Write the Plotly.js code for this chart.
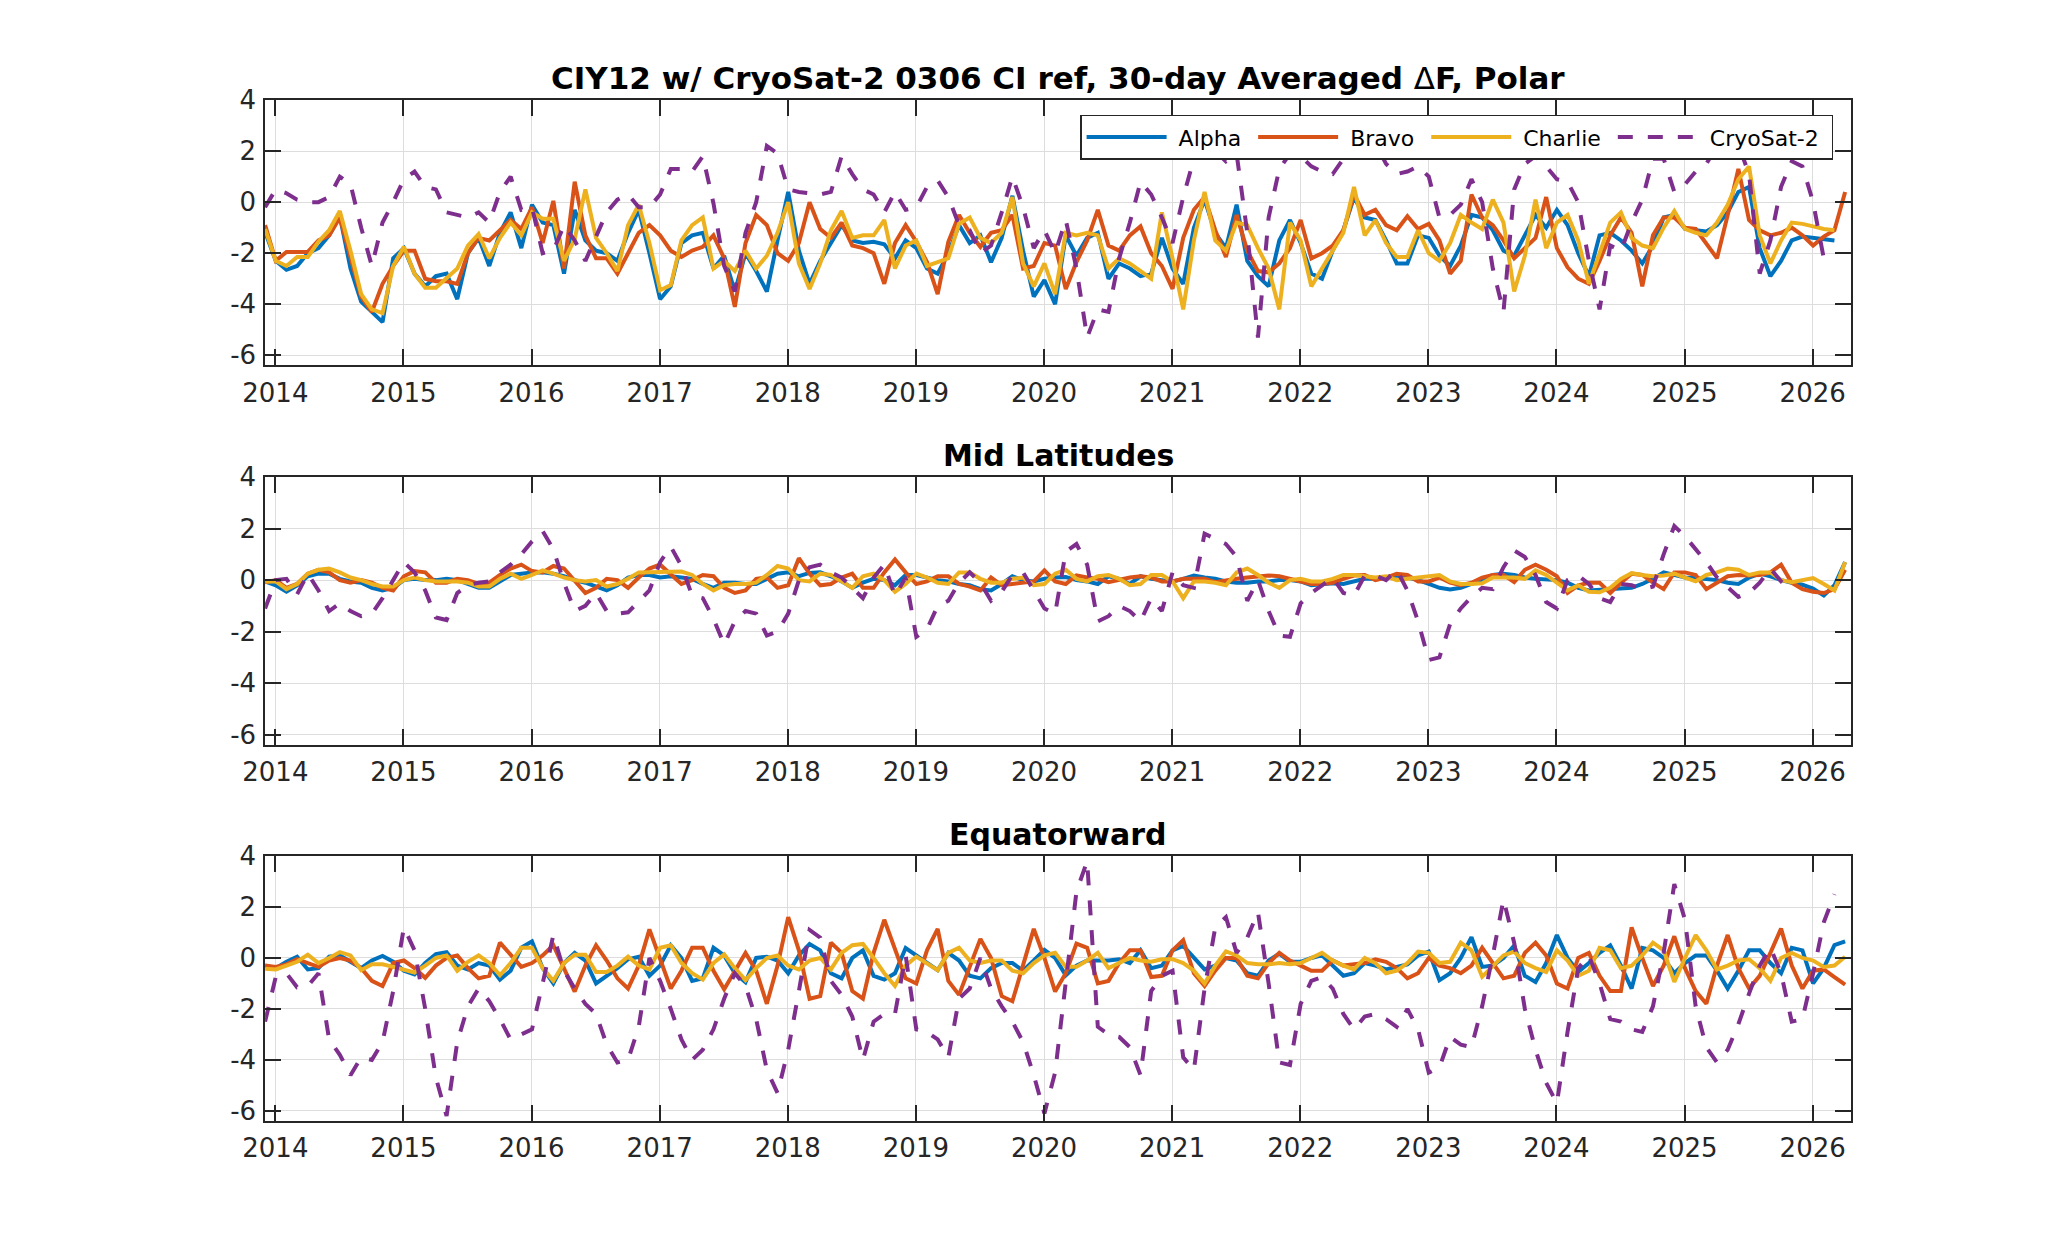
<!DOCTYPE html>
<html>
<head>
<meta charset="utf-8">
<script src="https://cdn.plot.ly/plotly-3.0.1.min.js"></script>
<style>
  html, body { margin: 0; padding: 0; background: #fff; }
  #chart { width: 2047px; height: 1260px; }
</style>
</head>
<body>
<div id="chart"></div>
<script>
// 30-day averaged dF, one value per month from Dec 2013 to Apr 2026
const startYear = 2013.92;
const nMonths = 149;
const months = [];
for (let i = 0; i < nMonths; i++) months.push(startYear + i / 12);

const yearTicks = [2014, 2015, 2016, 2017, 2018, 2019, 2020, 2021, 2022, 2023, 2024, 2025, 2026];
const yearLabels = ['2014', '2015', '2016', '2017', '2018', '2019', '2020', '2021', '2022', '2023', '2024', '2025', '2026'];
const yTicks = [-6, -4, -2, 0, 2, 4];
const yLabels = ['-6', '-4', '-2', '0', '2', '4'];

const seriesNames = ['Alpha', 'Bravo', 'Charlie', 'CryoSat-2'];
const panelTitles = [
  'CIY12 w/ CryoSat-2 0306 CI ref, 30-day Averaged <span style="font-weight:normal">\u0394</span>F, Polar',
  'Mid Latitudes',
  'Equatorward'
];

// ---- Polar
const polarAlpha = [
  -1.17, -2.3, -2.65, -2.5, -2.0, -1.8, -1.3, -0.55, -2.6, -3.9,
  -4.3, -4.7, -2.2, -1.8, -2.8, -3.3, -2.9, -2.8, -3.8, -2.0,
  -1.4, -2.5, -1.2, -0.4, -1.8, -0.1, -0.8, -0.9, -2.8, -0.3,
  -1.5, -1.9, -2.0, -2.3, -1.2, -0.3, -2.0, -3.8, -3.3, -1.6,
  -1.3, -1.2, -2.6, -2.1, -3.5, -2.0, -2.7, -3.5, -1.5, 0.4,
  -1.9, -3.2, -2.3, -1.6, -0.9, -1.5, -1.6, -1.55, -1.65, -2.2,
  -1.5, -1.8, -2.6, -2.8, -2.0, -0.9, -1.6, -1.3, -2.35, -1.4,
  0.25, -1.9, -3.7, -3.05, -4.0, -1.3, -2.1, -1.4, -1.2, -3.0,
  -2.4, -2.6, -2.9, -2.8, -1.4, -2.6, -3.2, -1.0, 0.1, -1.2,
  -1.8, -0.1, -2.3, -2.9, -3.3, -1.5, -0.7, -1.6, -2.8, -3.0,
  -1.9, -1.1, 0.2, -0.6, -0.7, -1.5, -2.4, -2.4, -1.3, -1.4,
  -2.1, -2.5, -1.7, -0.5, -0.6, -1.1, -1.9, -2.1, -1.3, -0.5,
  -1.0, -0.3, -0.9, -2.0, -2.9, -1.3, -1.2, -1.5, -1.9, -2.4,
  -1.7, -0.6, -0.5, -1.05, -1.1, -1.15, -0.9, -0.4, 0.4, 0.6,
  -1.8, -2.9, -2.3, -1.5, -1.35, -1.4, -1.45, -1.5, null
];
const polarBravo = [
  -0.9, -2.3, -1.95, -1.95, -1.95, -1.5, -1.3, -0.6, -2.1, -3.7,
  -4.3, -3.2, -2.5, -1.9, -1.9, -3.0, -3.1, -3.1, -3.2, -2.0,
  -1.4, -1.5, -1.1, -0.7, -1.05, -0.2, -1.6, 0.05, -2.6, 0.8,
  -1.3, -2.2, -2.2, -2.8, -2.0, -1.2, -0.9, -1.3, -1.9, -2.15,
  -1.9, -1.75, -1.3, -2.2, -4.1, -1.6, -0.5, -0.9, -2.0, -2.3,
  -1.6, 0.0, -1.05, -1.4, -0.8, -1.7, -1.8, -2.0, -3.2, -1.6,
  -0.9, -1.55, -2.35, -3.6, -1.55, -0.5, -1.2, -1.75, -1.2, -1.1,
  -0.5, -2.6, -2.5, -1.6, -1.7, -3.4, -2.35, -1.5, -0.3, -1.7,
  -1.9, -1.3, -0.95, -2.0, -2.5, -3.4, -1.4, -0.3, 0.2, -1.1,
  -2.15, -0.5, -1.9, -2.7, -2.75, -2.4, -1.8, -0.7, -2.2, -2.0,
  -1.7, -1.1, 0.3, -0.5, -0.3, -0.9, -1.1, -0.55, -1.05, -0.85,
  -1.5, -2.8, -2.3, 0.3, -0.6, -0.9, -1.5, -2.2, -1.8, -1.4,
  0.2, -1.8, -2.55, -3.0, -3.2, -2.3, -1.3, -0.6, -1.2, -3.3,
  -1.3, -0.6, -0.6, -1.0, -1.05, -1.6, -2.2, -0.5, 1.3, -0.7,
  -1.1, -1.3, -1.2, -1.0, -1.3, -1.7, -1.35, -1.1, 0.4
];
const polarCharlie = [
  -1.05, -2.3, -2.5, -2.15, -2.15, -1.55, -1.1, -0.35, -1.9, -3.6,
  -4.2, -4.35, -2.5, -1.75, -2.8, -3.35, -3.35, -3.0, -2.6, -1.7,
  -1.25, -2.2, -1.4, -0.8, -1.3, -0.4, -0.65, -0.65, -2.3, -1.45,
  0.5, -1.4, -2.0, -2.7, -0.9, -0.1, -1.6, -3.45, -3.25, -1.5,
  -0.9, -0.6, -2.6, -2.3, -2.7, -1.9, -2.6, -2.1, -1.2, 0.0,
  -2.4, -3.4, -2.4, -1.1, -0.35, -1.4, -1.3, -1.3, -0.7, -2.6,
  -1.7, -1.5, -2.5, -2.35, -2.2, -0.85, -0.6, -1.4, -1.6, -1.2,
  0.2, -2.4, -3.3, -2.4, -3.6, -1.2, -1.3, -1.2, -1.3, -2.6,
  -2.2, -2.4, -2.7, -3.0, -0.4, -2.2, -4.2, -1.5, 0.4, -1.5,
  -1.9, -0.8, -0.9, -1.8, -2.6, -4.2, -0.8, -1.5, -3.3, -2.6,
  -1.9, -1.2, 0.6, -1.3, -0.7, -1.6, -2.15, -2.15, -1.1, -2.0,
  -2.3, -1.6, -0.5, -0.8, -1.05, 0.1, -0.8, -3.5, -2.1, 0.1,
  -1.8, -0.8, -0.5, -1.5, -3.2, -2.0, -0.8, -0.4, -1.4, -1.7,
  -1.8, -1.0, -0.35, -1.05, -1.2, -1.3, -0.8, -0.1, 0.9, 1.4,
  -1.3, -2.4, -1.5, -0.8, -0.85, -0.95, -1.05, -1.1, null
];
const polarCryo = [
  -0.2, 0.5, 0.35, 0.1, 0.0, 0.0, 0.2, 1.0, 0.7, -1.0,
  -2.5, -0.8, 0.0, 0.9, 1.2, 0.6, 0.5, -0.4, -0.5, -0.6,
  -0.4, -0.8, 0.4, 1.0, -0.3, -0.2, -2.0, -1.9, -0.9, -1.5,
  -2.3, -1.3, -0.4, 0.1, 0.3, -0.2, -0.2, 0.3, 1.3, 1.3,
  1.2, 1.8, -0.05, -2.5, -3.5, -1.2, 0.0, 2.2, 1.9, 0.5,
  0.4, 0.35, 0.3, 0.4, 1.8, 1.1, 0.5, 0.3, -0.4, 0.4,
  -0.3, -0.2, 0.6, 0.85, 0.2, -0.9, -1.1, -2.0, -1.7, -0.4,
  1.0, -0.2, -1.8, -1.1, -2.0, -0.7, -2.6, -5.3, -4.2, -4.3,
  -2.2, -0.8, 0.8, 0.3, -0.6, -1.6, 0.2, 1.7, 2.3, 2.0,
  1.6, 1.9, -1.2, -5.3, -0.6, 1.3, 1.9, 1.8, 1.4, 1.2,
  1.1, 1.7, 2.5, 3.0, 2.3, 1.5, 1.1, 1.2, 1.4, 1.0,
  -0.6, -0.5, -0.1, 0.9, 0.0, -2.6, -4.3, 0.5, 1.5, 1.8,
  1.4, 0.9, 0.8, 0.0, -2.3, -4.2, -1.7, -1.9, -0.8, 0.1,
  1.7, 1.7, 0.4, 0.7, 1.2, 1.5, 2.2, 3.4, 2.2, 1.1,
  -2.8, -1.5, 0.6, 1.6, 1.4, 0.0, -2.2, null, null
];

// ---- Mid latitudes
const midAlpha = [
  -0.05, -0.2, -0.45, -0.2, 0.15, 0.25, 0.25, 0.05, -0.05, -0.1,
  -0.3, -0.4, -0.3, 0.0, 0.05, 0.0, 0.0, 0.05, 0.0, -0.15,
  -0.3, -0.3, -0.05, 0.2, 0.25, 0.3, 0.3, 0.25, 0.15, 0.0,
  -0.1, -0.25, -0.4, -0.2, 0.1, 0.2, 0.2, 0.1, 0.15, 0.1,
  0.05, -0.15, -0.3, -0.1, -0.1, -0.15, -0.15, 0.05, 0.25, 0.3,
  0.15, 0.28, 0.3, 0.15, -0.05, -0.3, -0.1, 0.05, 0.0, -0.2,
  0.2, 0.2, 0.1, 0.0, -0.05, -0.15, -0.2, -0.35, -0.4, -0.15,
  0.15, 0.0, -0.05, 0.05, 0.1, 0.12, 0.0, -0.05, -0.15, 0.15,
  0.05, -0.15, 0.15, 0.05, 0.0, -0.05, 0.05, 0.18, 0.1, 0.05,
  -0.05, -0.1, -0.1, -0.05, -0.05, 0.0, 0.0, -0.05, -0.2, -0.15,
  -0.12, -0.15, -0.05, 0.05, 0.05, 0.1, 0.18, 0.1, 0.0, -0.15,
  -0.3, -0.36, -0.3, -0.15, 0.0, 0.2, 0.25, 0.2, 0.1, 0.05,
  0.03, 0.0, -0.1, -0.3, -0.4, -0.38, -0.35, -0.35, -0.3, -0.15,
  0.05, 0.3, 0.2, 0.1, 0.08, 0.05, 0.0, -0.1, -0.15, 0.1,
  0.25, 0.15, 0.0, -0.1, -0.18, -0.33, -0.6, -0.2, 0.7
];
const midBravo = [
  -0.08, 0.0, -0.3, -0.15, 0.25, 0.4, 0.3, 0.0, -0.1, 0.0,
  -0.1, -0.3, -0.4, 0.15, 0.35, 0.3, -0.1, -0.1, 0.05, 0.0,
  -0.15, -0.1, 0.2, 0.45, 0.6, 0.35, 0.3, 0.55, 0.45, 0.0,
  -0.5, -0.3, 0.05, 0.0, -0.3, 0.1, 0.45, 0.6, 0.2, -0.15,
  0.0, 0.2, 0.15, -0.3, -0.5, -0.4, 0.05, 0.1, -0.3, -0.2,
  0.85, 0.25, -0.2, -0.15, 0.1, 0.25, -0.3, -0.3, 0.3, 0.8,
  0.3, -0.15, -0.05, 0.15, 0.15, -0.15, -0.25, -0.4, 0.1, -0.2,
  -0.15, -0.1, -0.05, 0.38, -0.05, -0.15, 0.18, 0.1, 0.05, -0.08,
  0.03, 0.1, 0.15, 0.1, -0.05, -0.05, 0.05, 0.05, 0.05, -0.08,
  0.0, 0.05, 0.1, 0.15, 0.18, 0.15, 0.05, -0.05, -0.15, -0.15,
  -0.1, 0.05, 0.18, 0.2, 0.0, 0.1, 0.25, 0.2, -0.05, -0.05,
  0.1, -0.1, -0.2, -0.1, 0.1, 0.2, 0.2, -0.08, 0.4, 0.6,
  0.4, 0.15, -0.5, -0.2, -0.1, -0.1, -0.5, -0.1, 0.25, 0.2,
  -0.1, -0.35, 0.3, 0.3, 0.2, -0.35, -0.1, 0.15, 0.2, 0.18,
  0.2, 0.3, 0.6, -0.1, -0.35, -0.45, -0.5, -0.35, 0.4
];
const midCharlie = [
  -0.05, -0.05, -0.35, -0.15, 0.25, 0.4, 0.45, 0.3, 0.1, 0.0,
  -0.15, -0.25, -0.25, 0.0, 0.1, 0.0, -0.05, -0.05, -0.05, -0.1,
  -0.25, -0.25, 0.05, 0.25, 0.05, 0.2, 0.38, 0.25, 0.1, 0.0,
  -0.05, 0.0, -0.25, -0.15, 0.05, 0.3, 0.3, 0.3, 0.3, 0.33,
  0.2, -0.15, -0.4, -0.2, -0.15, -0.15, -0.1, 0.2, 0.55, 0.45,
  0.0, -0.05, 0.25, 0.2, -0.05, -0.3, 0.15, 0.25, 0.0, -0.45,
  -0.15, 0.25, 0.1, -0.1, -0.15, 0.3, 0.3, 0.05, -0.1, -0.1,
  0.05, 0.1, -0.2, -0.15, 0.25, 0.4, 0.05, -0.05, 0.15, 0.2,
  0.05, -0.2, -0.15, 0.2, 0.2, -0.05, -0.7, -0.05, -0.05, -0.1,
  -0.2, 0.3, 0.45, 0.2, -0.1, -0.3, 0.0, 0.05, -0.05, -0.05,
  0.05, 0.2, 0.2, 0.15, 0.1, 0.15, 0.0, 0.05, 0.1, 0.15,
  0.2, -0.05, -0.15, -0.15, -0.12, 0.1, 0.1, 0.1, 0.05, 0.38,
  0.2, -0.1, -0.4, -0.2, -0.45, -0.47, -0.3, 0.05, 0.27, 0.2,
  0.15, 0.18, 0.25, 0.1, -0.05, 0.2, 0.3, 0.45, 0.4, 0.2,
  0.3, 0.3, 0.0, -0.08, 0.0, 0.08, -0.15, -0.4, 0.7
];
const midCryo = [
  -1.1, 0.0, 0.05, -0.55, 0.25, -0.4, -1.2, -0.9, -1.2, -1.4,
  -1.3, -0.7, 0.0, 0.7, 0.3, -0.4, -1.45, -1.55, -0.5, -0.2,
  -0.1, -0.05, 0.3, 0.6, 1.0, 1.5, 1.9, 1.2, -0.1, -1.2,
  -1.0, -0.5, -1.2, -1.3, -1.25, -0.8, -0.4, 0.7, 1.3, 0.55,
  -0.6, -0.7, -1.5, -2.5, -1.6, -1.2, -1.3, -2.15, -2.0, -1.3,
  0.0, 0.5, 0.6, 0.3, 0.1, -0.3, -0.7, 0.1, 0.6, -0.6,
  0.1, -2.2, -1.9, -1.0, -0.8, -0.1, 0.3, -0.1, -0.8, -0.45,
  0.2, 0.3, -0.4, -1.1, -1.3, 1.1, 1.4, 0.6, -1.6, -1.4,
  -1.0, -1.2, -1.6, -0.7, -1.2, 0.3, -0.2, -0.3, 1.8, 1.6,
  1.4, 0.9, -0.8, 0.0, -1.2, -2.15, -2.2, -0.9, -0.5, -0.2,
  0.1, -0.5, -0.6, 0.18, 0.18, 0.0, 0.4, -0.4, -1.6, -3.1,
  -3.0, -1.7, -1.1, -0.65, -0.3, -0.35, 0.5, 1.15, 0.9, 0.2,
  -0.85, -1.1, 0.0, 0.18, -0.15, -0.7, -0.85, -0.15, -0.2, -0.35,
  -0.25, 1.0, 2.1, 1.7, 1.2, 0.7, 0.1, -0.3, -0.65, -0.5,
  -0.1, 0.45, -0.05, -0.4, null, null, null, null, null
];

// ---- Equatorward
const eqAlpha = [
  -0.3, -0.4, -0.15, 0.05, -0.45, -0.4, 0.05, 0.1, -0.15, -0.4,
  -0.1, 0.08, -0.15, -0.5, -0.65, -0.2, 0.15, 0.23, -0.3, -0.45,
  -0.2, -0.3, -0.85, -0.5, 0.4, 0.65, -0.4, -1.0, -0.2, 0.2,
  -0.1, -1.0, -0.7, -0.4, -0.05, 0.05, -0.7, -0.3, 0.5, 0.0,
  -0.9, -0.8, 0.4, 0.1, -0.6, -0.95, 0.0, 0.05, -0.1, -0.6,
  0.1, 0.55, 0.3, -0.6, -0.8, 0.0, 0.3, -0.7, -0.85, -0.6,
  0.39, 0.1, -0.2, -0.48, 0.2, -0.1, -0.7, -0.8, -0.4, -0.2,
  -0.2, -0.5, -0.1, 0.32, 0.0, -0.68, -0.3, -0.1, -0.1, -0.1,
  -0.05, -0.2, 0.3, -0.4, -0.3, 0.3, 0.47, 0.0, -0.45, -0.3,
  0.0, -0.1, -0.6, -0.7, -0.1, 0.17, -0.15, -0.15, 0.0, 0.1,
  -0.3, -0.7, -0.6, -0.2, -0.3, -0.45, -0.35, -0.25, 0.1, 0.25,
  -0.87, -0.6, 0.0, 0.82, -0.35, -0.3, 0.0, 0.49, -0.7, -0.94,
  -0.2, 0.9, 0.0, -0.55, -0.2, 0.2, 0.49, -0.3, -1.2, 0.4,
  0.3, 0.0, -0.6, -0.2, 0.1, 0.1, -0.5, -1.2, -0.5, 0.3,
  0.3, -0.2, -0.6, 0.4, 0.3, -1.0, -0.4, 0.5, 0.65
];
const eqBravo = [
  -0.3, -0.35, -0.25, -0.05, -0.2, -0.35, -0.1, 0.0, -0.1, -0.4,
  -0.9, -1.1, -0.2, -0.1, -0.4, -0.78, -0.3, 0.0, 0.1, -0.4,
  -0.8, -0.7, 0.6, 0.1, -0.35, -0.2, 0.1, 0.5, -0.4, -1.32,
  -0.3, 0.5, -0.1, -0.8, -1.2, -0.3, 1.12, -0.1, -1.2, -0.5,
  0.4, 0.4, -0.5, -1.23, -0.5, 0.2, -0.5, -1.8, -0.3, 1.6,
  0.3, -1.6, -1.5, 0.6, 0.2, -1.3, -1.6, 0.2, 1.5, 0.3,
  -0.8, -1.0, 0.3, 1.14, -0.9, -1.45, -0.3, 0.75, 0.0, -1.5,
  -1.7, -0.3, 1.14, 0.0, -1.32, -0.6, 0.56, 0.4, -1.0, -0.9,
  -0.2, 0.3, 0.3, -0.75, -0.7, 0.3, 0.7, -0.6, -1.1, -0.5,
  0.0, 0.0, -0.7, -0.8, -0.2, 0.2, -0.1, -0.3, -0.5, -0.5,
  -0.1, -0.3, -0.25, -0.2, -0.05, -0.15, -0.4, -0.8, -0.6, 0.0,
  -0.3, -0.4, -0.6, -0.3, 0.4, -0.2, -0.8, -0.7, 0.2, 0.6,
  0.1, -1.0, -1.2, 0.0, 0.2, -0.7, -1.3, -1.3, 1.2, 0.0,
  -1.1, -0.3, 0.85, -0.4, -1.3, -1.8, -0.3, 0.9, -0.4, -1.2,
  -0.7, 0.2, 1.15, -0.3, -1.2, -0.5, -0.45, -0.75, -1.05
];
const eqCharlie = [
  -0.42, -0.45, -0.3, -0.15, 0.13, -0.2, 0.0, 0.23, 0.1, -0.48,
  -0.25, -0.25, -0.35, -0.45, -0.57, -0.3, 0.0, 0.1, -0.5, -0.15,
  0.1, -0.2, -0.68, -0.2, 0.4, 0.4, -0.4, -0.9, -0.2, 0.13,
  0.13, -0.55, -0.55, -0.3, 0.05, -0.3, -0.45, 0.4, 0.5, -0.2,
  -0.6, -0.85, -0.2, 0.14, -0.4, -0.87, -0.4, 0.0, 0.1, -0.3,
  -0.45, -0.1, 0.0, -0.45, 0.2, 0.5, 0.55, 0.0, -0.6, -1.1,
  -0.3, 0.05, -0.2, -0.48, 0.2, 0.4, -0.1, -0.2, -0.1, -0.1,
  -0.5, -0.6, -0.2, 0.1, 0.2, -0.35, -0.35, -0.1, 0.2, -0.4,
  -0.2, 0.0, -0.1, -0.15, -0.05, -0.05, -0.2, -0.5, -1.0, -0.3,
  0.26, 0.1, -0.2, -0.25, -0.25, -0.2, -0.25, -0.2, 0.0, 0.2,
  -0.1, -0.3, -0.45, 0.0, -0.2, -0.6, -0.5, -0.2, 0.25, 0.2,
  -0.2, -0.15, 0.6, 0.3, -0.74, -0.3, 0.1, 0.25, -0.2, -0.4,
  -0.55, 0.3, -0.1, -0.7, -0.5, 0.4, 0.3, -0.4, -0.3, 0.1,
  0.6, 0.3, -0.94, 0.0, 0.9, 0.3, -0.45, -0.3, -0.1, -0.05,
  -0.4, -0.9, 0.0, 0.2, 0.0, -0.1, -0.35, -0.3, 0.05
];
const eqCryo = [
  -2.5, -0.74, -0.6, -1.15, -1.1, -0.6, -3.2, -3.8, -4.6, -3.9,
  -4.0, -3.3, -1.3, 1.2, 0.3, -2.0, -4.7, -6.2, -3.3, -1.9,
  -1.2, -1.7, -2.4, -3.2, -3.0, -2.8, -1.0, 0.9, -0.5, -1.2,
  -1.8, -2.2, -3.4, -4.1, -4.0, -2.7, 0.0, -0.9, -2.0, -3.2,
  -4.0, -3.6, -2.8, -1.6, -0.6, -1.1, -2.4, -4.4, -5.3, -3.6,
  -1.3, 1.1, 0.8, -0.9, -1.45, -2.3, -4.0, -2.5, -2.2, -2.2,
  0.1, -2.8, -2.9, -3.2, -3.9, -1.6, -1.2, 0.0, -1.2, -1.9,
  -2.5, -3.3, -4.6, -6.1, -4.5, -1.0, 2.6, 3.8, -2.7, -3.0,
  -3.1, -3.5, -4.6, -1.3, -0.7, -0.5, -3.9, -4.4, -1.2, 1.2,
  1.6, 0.2, 0.8, 1.8, -1.0, -4.1, -4.2, -1.8, -0.9, -0.75,
  -1.2, -2.2, -2.8, -2.3, -2.2, -2.4, -2.7, -2.0, -2.8, -4.5,
  -4.3, -3.1, -3.4, -3.5, -1.9, 0.1, 2.3, 0.6, -2.0, -3.6,
  -4.9, -5.7, -2.9, -0.4, 0.1, -1.0, -2.4, -2.5, -2.8, -2.9,
  -1.9, 0.2, 2.9, 1.5, -1.9, -3.5, -4.1, -3.6, -2.6, -1.4,
  -0.3, 0.4, -0.6, -2.5, -2.4, -0.6, 1.4, 2.5, null
];

const colors = ['#0072BD', '#D95319', '#EDB120', '#7E2F8E'];
const panels = [
  [polarAlpha, polarBravo, polarCharlie, polarCryo],
  [midAlpha, midBravo, midCharlie, midCryo],
  [eqAlpha, eqBravo, eqCharlie, eqCryo]
];

const xDomain = [0.1295, 0.9043];
const yDomains = [[0.7103, 0.9206], [0.4091, 0.6214], [0.1107, 0.3206]];
const tickFont = { family: 'DejaVu Sans', size: 26, color: '#262626' };
const pad = '\u00a0';

const data = [];
panels.forEach((series, p) => {
  const sfx = p === 0 ? '' : String(p + 1);
  series.forEach((vals, s) => {
    data.push({
      x: months,
      y: vals,
      type: 'scatter',
      mode: 'lines',
      // a little padding so the legend spacing matches the original
      name: pad + seriesNames[s] + pad,
      xaxis: 'x' + sfx,
      yaxis: 'y' + sfx,
      showlegend: p === 0,
      connectgaps: false,
      line: {
        color: colors[s],
        width: 4,
        dash: s === 3 ? '15px,15px' : 'solid'
      },
      hoverinfo: 'skip'
    });
  });
});

const layout = {
  width: 2047,
  height: 1260,
  paper_bgcolor: '#ffffff',
  plot_bgcolor: '#ffffff',
  margin: { l: 0, r: 0, t: 0, b: 0 },
  font: { family: 'DejaVu Sans', color: '#262626' },
  showlegend: true,
  legend: {
    orientation: 'h',
    x: 0.8955,
    xanchor: 'right',
    y: 0.909,
    yanchor: 'top',
    bgcolor: '#ffffff',
    bordercolor: '#262626',
    borderwidth: 1.5,
    itemwidth: 80,
    font: { family: 'DejaVu Sans', size: 22, color: '#000000' }
  },
  annotations: []
};

yDomains.forEach((dom, p) => {
  const sfx = p === 0 ? '' : String(p + 1);
  const common = {
    ticks: 'inside',
    ticklen: 16,
    tickwidth: 1.5,
    tickcolor: '#262626',
    showline: true,
    linecolor: '#262626',
    linewidth: 1.5,
    mirror: 'ticks',
    showgrid: true,
    gridcolor: '#dddddd',
    gridwidth: 1,
    zeroline: false,
    tickfont: tickFont
  };
  layout['xaxis' + sfx] = Object.assign({
    domain: xDomain,
    anchor: 'y' + sfx,
    range: [2013.92, 2026.30],
    tickvals: yearTicks,
    ticktext: yearLabels,
    ticklabelstandoff: 4
  }, common);
  layout['yaxis' + sfx] = Object.assign({
    domain: dom,
    anchor: 'x' + sfx,
    range: [-6.38, 4],
    tickvals: yTicks,
    ticktext: yLabels,
    ticklabelstandoff: 2
  }, common);
  layout.annotations.push({
    text: panelTitles[p],
    xref: 'paper',
    yref: 'paper',
    x: (xDomain[0] + xDomain[1]) / 2,
    y: dom[1],
    xanchor: 'center',
    yanchor: 'bottom',
    yshift: 2,
    showarrow: false,
    font: { family: 'DejaVu Sans', size: p === 0 ? 31 : 30, weight: 'bold', color: '#000000' }
  });
});

Plotly.newPlot('chart', data, layout, { displayModeBar: false, responsive: false });
</script>
</body>
</html>
